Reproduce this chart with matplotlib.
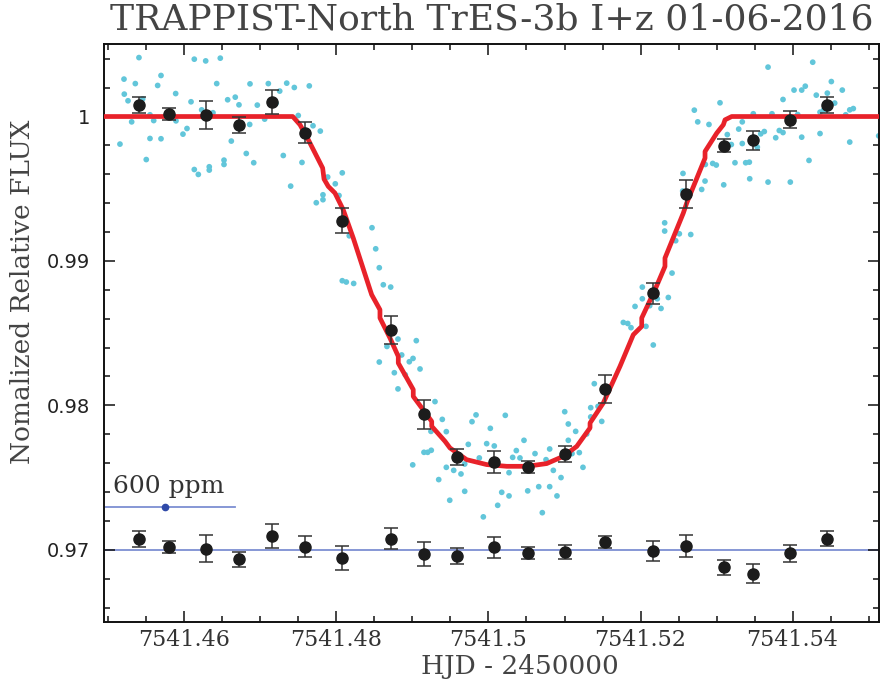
import matplotlib
matplotlib.use("Agg")
import matplotlib.pyplot as plt
from matplotlib.ticker import MultipleLocator, FixedLocator, FixedFormatter
import numpy as np

T0 = 7541.0  # HJD - 2450000 integer part

# ---- unbinned photometry (HJD-2457541, flux) ----
raw_dt = [
0.45401, 0.45204, 0.45353, 0.45691, 0.45647, 0.45208, 0.45257, 0.45450, 0.45884, 0.45546,
0.45595, 0.45305, 0.45888, 0.45151, 0.45546, 0.45691, 0.45497, 0.45980, 0.46033, 0.46086,
0.46129, 0.46279, 0.46471, 0.46424, 0.46226, 0.46375, 0.46568, 0.46668, 0.46717, 0.46862,
0.46958, 0.47103, 0.46616, 0.46813, 0.46911, 0.46858, 0.46520, 0.46520, 0.46326, 0.46326,
0.46129, 0.46182, 0.47253, 0.47345, 0.47445, 0.47642, 0.47204, 0.47497, 0.47055, 0.47300,
0.47546, 0.47691, 0.47787, 0.47397, 0.47734, 0.47822, 0.47822, 0.48076, 0.47884, 0.47984,
0.48033, 0.48467, 0.48168, 0.48516, 0.48563, 0.48076, 0.48129, 0.48226, 0.48616, 0.48713,
0.48809, 0.49050, 0.48664, 0.48858, 0.49007, 0.48958, 0.48563, 0.49099, 0.48761, 0.48905,
0.48809, 0.49296, 0.49392, 0.49243, 0.49445, 0.49151, 0.49200, 0.49247, 0.49003, 0.49345,
0.49490, 0.49445, 0.49542, 0.49638, 0.49687, 0.49734, 0.49687, 0.49783, 0.49836, 0.49879,
0.49976, 0.50076, 0.50024, 0.50221, 0.50174, 0.50270, 0.50270, 0.50121, 0.49932, 0.50318,
0.50366, 0.50414, 0.50467, 0.50612, 0.50516, 0.50661, 0.50708, 0.50757, 0.50805, 0.50805,
0.50853, 0.50901, 0.50954, 0.51003, 0.51050, 0.51050, 0.51099, 0.51147, 0.51195, 0.51243,
0.51292, 0.51345, 0.51345, 0.51441, 0.51392, 0.51490, 0.51928, 0.51774, 0.51832, 0.51875,
0.52559, 0.52849, 0.52805, 0.53095, 0.52950, 0.52997, 0.52853, 0.52555, 0.52318, 0.52318,
0.52511, 0.52661, 0.52463, 0.52415, 0.52024, 0.52024, 0.52366, 0.52221, 0.52270, 0.52121,
0.52072, 0.52168, 0.53678, 0.54266, 0.54511, 0.54168, 0.54020, 0.54121, 0.54655, 0.54313,
0.54458, 0.53875, 0.53046, 0.52708, 0.54555, 0.54362, 0.54411, 0.54800, 0.54753, 0.53484,
0.53730, 0.54068, 0.54700, 0.52753, 0.52901, 0.53339, 0.53292, 0.53142, 0.53629, 0.53582,
0.53826, 0.53875, 0.53779, 0.54121, 0.54362, 0.55134, 0.53195, 0.53339, 0.53537, 0.54753,
0.54217, 0.53243, 0.53384, 0.53432, 0.53437, 0.53678, 0.53971]

raw_flux = [
1.00408, 1.00259, 1.00228, 1.00284, 1.00215, 1.00155, 1.00109, 1.00122, 1.00159, 1.00012,
0.99972, 0.99963, 0.99970, 0.99809, 0.99848, 0.99846, 0.99702, 0.99878, 0.99917, 1.00102,
1.00397, 1.00385, 1.00404, 1.00228, 1.00046, 1.00026, 1.00116, 1.00134, 1.00081, 1.00226,
1.00079, 1.00228, 0.99830, 0.99744, 0.99680, 0.99945, 0.99698, 0.99668, 0.99652, 0.99629,
0.99633, 0.99599, 1.00176, 1.00231, 1.00201, 1.00212, 1.00090, 1.00007, 0.99982, 0.99730,
0.99682, 0.99936, 0.99899, 0.99518, 0.99403, 0.99458, 0.99424, 0.99610, 0.99581, 0.99534,
0.99453, 0.99230, 0.99174, 0.99084, 0.98953, 0.98863, 0.98854, 0.98844, 0.98835, 0.98819,
0.98459, 0.98448, 0.98408, 0.98349, 0.98325, 0.98302, 0.98300, 0.98252, 0.98226, 0.98212,
0.98114, 0.98026, 0.97903, 0.97820, 0.97818, 0.97675, 0.97675, 0.97689, 0.97588, 0.97486,
0.97343, 0.97571, 0.97550, 0.97525, 0.97594, 0.97730, 0.97405, 0.97887, 0.97934, 0.97636,
0.97735, 0.97719, 0.97841, 0.97931, 0.97398, 0.97373, 0.97534, 0.97308, 0.97228, 0.97640,
0.97687, 0.97636, 0.97758, 0.97666, 0.97408, 0.97437, 0.97257, 0.97624, 0.97698, 0.97437,
0.97550, 0.97373, 0.97500, 0.97956, 0.97871, 0.97758, 0.97666, 0.97820, 0.97673, 0.97571,
0.97802, 0.97984, 0.97920, 0.97993, 0.98150, 0.97889, 0.98685, 0.98574, 0.98567, 0.98538,
0.99606, 0.99553, 0.99495, 0.99527, 0.99675, 0.99664, 0.99668, 0.99484, 0.99264, 0.99207,
0.99188, 0.99183, 0.99140, 0.98916, 0.98819, 0.98738, 0.98747, 0.98738, 0.98671, 0.98690,
0.98547, 0.98418, 1.00342, 1.00376, 1.00242, 1.00210, 1.00183, 1.00183, 1.00183, 1.00148,
1.00162, 1.00118, 1.00095, 1.00044, 1.00093, 1.00030, 1.00046, 1.00055, 1.00046, 1.00019,
1.00019, 1.00014, 1.00012, 0.99963, 0.99945, 0.99963, 0.99913, 0.99875, 0.99896, 0.99880,
0.99903, 0.99889, 0.99853, 0.99857, 0.99882, 0.99866, 0.99806, 0.99813, 0.99788, 0.99823,
0.99696, 0.99680, 0.99680, 0.99684, 0.99569, 0.99546, 0.99546]

# ---- binned photometry ----
bin_dt = [0.45401, 0.45792, 0.46279, 0.46717, 0.47155, 0.47589, 0.48076, 0.48713, 0.49151, 0.49589,
          0.50076, 0.50516, 0.51003, 0.51537, 0.52168, 0.52603, 0.53095, 0.53484, 0.53971, 0.54458]
bin_flux = [1.00079, 1.00019, 1.00010, 0.99940, 1.00100, 0.99889, 0.99278, 0.98524, 0.97938, 0.97643,
            0.97608, 0.97571, 0.97664, 0.98116, 0.98775, 0.99463, 0.99799, 0.99834, 0.99979, 1.00079]
bin_err = [0.00057, 0.00042, 0.00095, 0.00055, 0.00083, 0.00074, 0.00088, 0.00098, 0.00099, 0.00054,
           0.00074, 0.00042, 0.00054, 0.00097, 0.00073, 0.00099, 0.00048, 0.00064, 0.00057, 0.00054]

# ---- binned residuals (shown offset to 0.97) ----
resid_offset = 0.97
resid = [0.00076, 0.00019, 0.00007, -0.00065, 0.00097, 0.00021, -0.00058, 0.00076, -0.00028, -0.00042,
         0.00016, -0.00021, -0.00014, 0.00055, -0.00007, 0.00025, -0.00120, -0.00166, -0.00025, 0.00078]
resid_err = [0.00057, 0.00042, 0.00093, 0.00053, 0.00085, 0.00074, 0.00081, 0.00073, 0.00085, 0.00053,
             0.00071, 0.00042, 0.00048, 0.00042, 0.00068, 0.00074, 0.00052, 0.00066, 0.00057, 0.00052]

# ---- best-fit transit model ----
model_dt = [0.44941, 0.47424, 0.47520, 0.47629, 0.47818, 0.47836, 0.47892, 0.47980, 0.48089, 0.48221,
            0.48441, 0.48463, 0.48572, 0.48572, 0.48704, 0.48813, 0.48813, 0.49010, 0.49010, 0.49253,
            0.49253, 0.49428, 0.49493, 0.49713, 0.49976, 0.50240, 0.50503, 0.50766, 0.50984, 0.51161,
            0.51336, 0.51336, 0.51511, 0.51730, 0.51905, 0.52016, 0.52016, 0.52191, 0.52322, 0.52322,
            0.52563, 0.52608, 0.52849, 0.52849, 0.53003, 0.53090, 0.53112, 0.53200, 0.55138]
model_flux = [1.00000, 1.00000, 0.99943, 0.99839, 0.99643, 0.99567, 0.99516, 0.99470, 0.99354, 0.99158,
              0.98801, 0.98766, 0.98662, 0.98605, 0.98466, 0.98339, 0.98293, 0.98109, 0.98062, 0.97889,
              0.97855, 0.97751, 0.97705, 0.97624, 0.97590, 0.97578, 0.97578, 0.97597, 0.97647, 0.97716,
              0.97844, 0.97878, 0.98017, 0.98270, 0.98489, 0.98547, 0.98605, 0.98801, 0.98962, 0.99020,
              0.99331, 0.99401, 0.99712, 0.99758, 0.99885, 0.99943, 0.99977, 1.00000, 1.00000]

# ---- 600 ppm scale indicator ----
scale_dt = [0.44941, 0.46664]
scale_flux = 0.97298
scale_dot_dt = 0.45743
scale_label = "600 ppm"
scale_label_pos = (0.45059, 0.97392)

title = "TRAPPIST-North TrES-3b I+z 01-06-2016"
xlabel = "HJD - 2450000"
ylabel = "Nomalized Relative FLUX"
xticks = [7541.46, 7541.48, 7541.50, 7541.52, 7541.54]
xtick_labels = ["7541.46", "7541.48", "7541.5", "7541.52", "7541.54"]
yticks = [0.97, 0.98, 0.99, 1.00]
ytick_labels = ["0.97", "0.98", "0.99", "1"]

W, H = 880, 679
fig = plt.figure(figsize=(W / 100, H / 100), dpi=100)
ax = fig.add_axes([104 / W, 1 - 622 / H, (879 - 104) / W, (622 - 44.3) / H])

t = lambda a: T0 + np.asarray(a)

ax.scatter(t(raw_dt), raw_flux, s=17, color="#62c6da", edgecolors="none", zorder=2)
ax.plot(t(model_dt), model_flux, color="#e8222a", lw=3.4, zorder=3, solid_capstyle="butt")

ax.axhline(resid_offset, color="#7d8fd2", lw=1.3, zorder=1)
ax.plot(t(scale_dt), [scale_flux, scale_flux], color="#7d8fd2", lw=1.3, zorder=1)
ax.plot(t([scale_dot_dt]), [scale_flux], "o", color="#2f4aa8", ms=4.5, zorder=4)
ax.text(T0 + scale_label_pos[0], scale_label_pos[1], scale_label, family="DejaVu Serif",
        fontsize=18, va="baseline", ha="left", color="#333333")

eb_kw = dict(fmt="o", color="#1c1c1c", ms=8, ecolor="#333333", elinewidth=1.1,
             capsize=5, capthick=1.1, zorder=5)
ax.errorbar(t(bin_dt), bin_flux, yerr=bin_err, **eb_kw)
ax.errorbar(t(bin_dt), resid_offset + np.asarray(resid), yerr=resid_err, **eb_kw)

ax.set_xlim(T0 + 0.44941, T0 + 0.55138)
ax.set_ylim(0.965, 1.005)

ax.xaxis.set_major_locator(FixedLocator(xticks))
ax.xaxis.set_major_formatter(FixedFormatter(xtick_labels))
ax.xaxis.set_minor_locator(MultipleLocator(0.005))
ax.yaxis.set_major_locator(FixedLocator(yticks))
ax.yaxis.set_major_formatter(FixedFormatter(ytick_labels))
ax.yaxis.set_minor_locator(MultipleLocator(0.002))

ax.tick_params(which="both", direction="in", top=True, right=True, width=1.1, color="#111111")
ax.tick_params(which="major", length=8)
ax.tick_params(which="minor", length=4)
ax.tick_params(axis="x", pad=5)
ax.tick_params(axis="y", pad=10)
for lab in ax.get_xticklabels():
    lab.set_family("DejaVu Serif")
    lab.set_fontsize(16)
    lab.set_color("#333333")
for lab in ax.get_yticklabels():
    lab.set_family("DejaVu Sans")
    lab.set_fontsize(14)
    lab.set_color("#222222")
for s in ax.spines.values():
    s.set_linewidth(1.4)
    s.set_color("#111111")

fig.text(491.5 / W, 1 - 29.3 / H, title, family="DejaVu Serif", fontsize=26,
         ha="center", va="baseline", color="#444444")
fig.text(520 / W, 1 - 674 / H, xlabel, family="DejaVu Serif", fontsize=19,
         ha="center", va="baseline", color="#444444")
fig.text(23 / W, 1 - 292 / H, ylabel, family="DejaVu Serif", fontsize=19,
         ha="center", va="center", rotation=90, color="#444444")

fig.savefig("out.png", dpi=100)
